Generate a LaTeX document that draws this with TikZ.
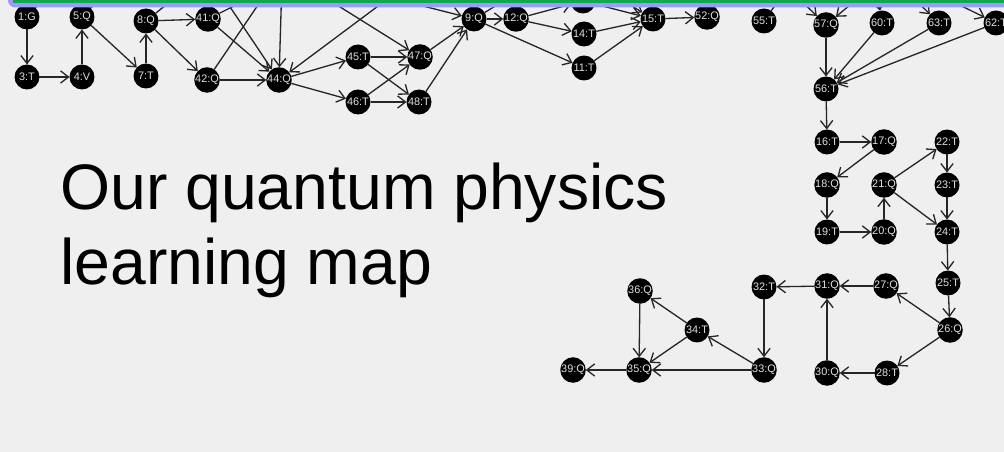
\documentclass[tikz,border=0pt]{standalone}
\usepackage{fontspec}
\setmainfont{Liberation Sans}
\usepackage{tikz}
\usetikzlibrary{arrows.meta,positioning}
\definecolor{pagegray}{RGB}{239,239,239}
\definecolor{barblue}{RGB}{155,155,250}
\definecolor{bargreen}{RGB}{18,168,82}

\begin{document}
\begin{tikzpicture}[x=0.02cm,y=-0.02cm,
    topic/.style={circle,fill=black,minimum size=0.5cm,inner sep=0pt,outer sep=0pt,
      text=white!88!black,font=\fontsize{6.2}{6.2}\selectfont},
    link/.style={draw=black!85,line width=0.75pt,-{Straight Barb[length=4.5pt,width=7pt]}},
    titletext/.style={anchor=base west,inner sep=0pt,font=\fontsize{36.6}{36.6}\selectfont}]
        % page
        \fill[pagegray] (0,0) rectangle (1004,452);
        \useasboundingbox (0,0) rectangle (1004,452);
        \clip (0,0) rectangle (1004,452);
        % title
        \node[titletext] (title1) at (60,210) {Our quantum physics};
        \node[titletext] (title2) at (60,285) {learning map};
        % top row
        \node[topic] (n1) at (27,17) {1:G};   \node[topic] (n3) at (27,77) {3:T};
        \node[topic] (n5) at (82,17) {5:Q};   \node[topic] (n4) at (82,77) {4:V};
        \node[topic] (n8) at (146,21) {8:Q};  \node[topic] (n7) at (146,76) {7:T};
        \node[topic] (n41) at (208,19) {41:Q}; \node[topic] (n42) at (207,80) {42:Q};
        \node[topic] (n44) at (279,80) {44:Q};
        \node[topic] (n45) at (358,57) {45:T}; \node[topic] (n47) at (420,57) {47:Q};
        \node[topic] (n46) at (358,102) {46:T}; \node[topic] (n48) at (419,102) {48:T};
        \node[topic] (n9) at (474,19) {9:Q};  \node[topic] (n12) at (516,19) {12:Q};
        \node[topic] (n13) at (583,1) {};
        \node[topic] (n14) at (584,34) {14:T}; \node[topic] (n11) at (584,68) {11:T};
        \node[topic] (n15) at (653,19) {15:T}; \node[topic] (n52) at (707,17) {52:Q};
        \node[topic] (n55) at (764,21) {55:T}; \node[topic] (n57) at (826,25) {57:Q};
        \node[topic] (n60) at (882,23) {60:T}; \node[topic] (n63) at (939,23) {63:T};
        \node[topic] (n62) at (996,23) {62:T}; \node[topic] (n56) at (826,89) {56:T};
        % right block
        \node[topic] (n16) at (827,142) {16:T}; \node[topic] (n17) at (884,142) {17:Q};
        \node[topic] (n22) at (947,142) {22:T}; \node[topic] (n18) at (827,185) {18:Q};
        \node[topic] (n21) at (884,185) {21:Q}; \node[topic] (n23) at (947,185) {23:T};
        \node[topic] (n19) at (827,232) {19:T}; \node[topic] (n20) at (884,232) {20:Q};
        \node[topic] (n24) at (947,232) {24:T}; \node[topic] (n25) at (948,283) {25:T};
        \node[topic] (n26) at (950,330) {26:Q}; \node[topic] (n27) at (886,286) {27:Q};
        \node[topic] (n31) at (827,286) {31:Q}; \node[topic] (n30) at (827,373) {30:Q};
        \node[topic] (n28) at (887,373) {28:T};
        % bottom block
        \node[topic] (n32) at (764,287) {32:T}; \node[topic] (n33) at (764,370) {33:Q};
        \node[topic] (n34) at (697,330) {34:T}; \node[topic] (n36) at (640,291) {36:Q};
        \node[topic] (n35) at (639,370) {35:Q}; \node[topic] (n39) at (573,370) {39:Q};
        % ends hidden under the bar
        \coordinate (h1) at (60,-20);   \coordinate (h5) at (118,-20);
        \coordinate (h8) at (197,-20);  \coordinate (h41) at (286,-20);
        \coordinate (h42) at (275,-20); \coordinate (h9) at (538,-20);
        \coordinate (h55) at (793,-20);
        \coordinate (ha) at (212,-20);  \coordinate (hb) at (282,-20);
        \coordinate (hc) at (413,-20);  \coordinate (hd) at (297,-20);
        \coordinate (he) at (321,-20);  \coordinate (hf) at (590,-20);
        \coordinate (hg) at (780,-20);  \coordinate (hh) at (880,-20);
        \coordinate (hi) at (875,-20);  \coordinate (hj) at (895,-20);
        \coordinate (hk) at (909,-20);
        % connectors
        \draw[link] (n1) -- (n3);   \draw[link] (n3) -- (n4);
        \draw[link] (n4) -- (n5);   \draw[link] (n5) -- (n7);
        \draw[link] (n7) -- (n8);   \draw[link] (n8) -- (n41);
        \draw[link] (n8) -- (n42);  \draw[link] (n41) -- (n44);
        \draw[link] (n42) -- (n44); \draw[link] (n44) -- (n45);
        \draw[link] (n44) -- (n46); \draw[link] (n45) -- (n47);
        \draw[link] (n45) -- (n48); \draw[link] (n46) -- (n47);
        \draw[link] (n46) -- (n48); \draw[link] (n47) -- (n9);
        \draw[link] (n48) -- (n9);  \draw[link] (n9) -- (n12);
        \draw[link] (n9) -- (n11);  \draw[link] (n12) -- (n13);
        \draw[link] (n12) -- (n14); \draw[link] (n13) -- (n15);
        \draw[link] (n14) -- (n15); \draw[link] (n11) -- (n15);
        \draw[link] (n15) -- (n52);
        \draw[link] (n57) -- (n56); \draw[link] (n60) -- (n56);
        \draw[link] (n63) -- (n56); \draw[link] (n62) -- (n56);
        \draw[link] (n56) -- (n16); \draw[link] (n16) -- (n17);
        \draw[link] (n17) -- (n18); \draw[link] (n18) -- (n19);
        \draw[link] (n19) -- (n20); \draw[link] (n20) -- (n21);
        \draw[link] (n21) -- (n22); \draw[link] (n21) -- (n24);
        \draw[link] (n22) -- (n23); \draw[link] (n23) -- (n24);
        \draw[link] (n24) -- (n25); \draw[link] (n25) -- (n26);
        \draw[link] (n26) -- (n27); \draw[link] (n26) -- (n28);
        \draw[link] (n27) -- (n31); \draw[link] (n28) -- (n30);
        \draw[link] (n30) -- (n31); \draw[link] (n31) -- (n32);
        \draw[link] (n32) -- (n33); \draw[link] (n33) -- (n34);
        \draw[link] (n33) -- (n35); \draw[link] (n34) -- (n36);
        \draw[link] (n34) -- (n35); \draw[link] (n36) -- (n35);
        \draw[link] (n35) -- (n39);
        % stubs to the hidden part
        \draw[link] (n1) -- (h1);   \draw[link] (n5) -- (h5);
        \draw[link] (n8) -- (h8);   \draw[link] (n41) -- (h41);
        \draw[link] (n42) -- (h42); \draw[link] (n9) -- (h9);
        \draw[link] (n55) -- (h55);
        \draw[link] (ha) -- (n44);  \draw[link] (hb) -- (n44);
        \draw[link] (hc) -- (n44);  \draw[link] (hd) -- (n47);
        \draw[link] (he) -- (n9);   \draw[link] (hf) -- (n15);
        \draw[link] (hg) -- (n57);  \draw[link] (hh) -- (n57);
        \draw[link] (hi) -- (n60);  \draw[link] (hj) -- (n63);
        \draw[link] (hk) -- (n62);
        % top bar
        \fill[barblue,rounded corners=4pt] (8,-20) rectangle (1020,7.5);
        \fill[bargreen] (13,-20) rectangle (1020,3);
      \end{tikzpicture}
\end{document}
